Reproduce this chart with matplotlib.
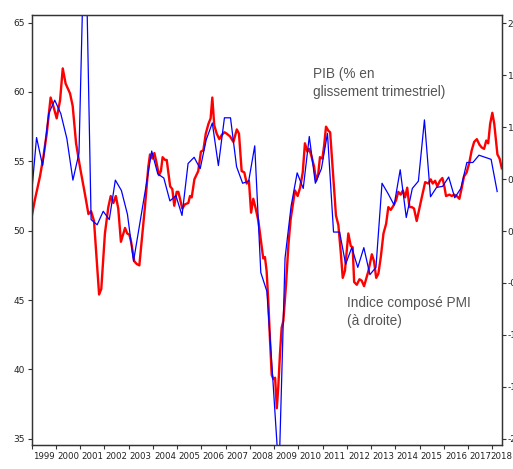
import matplotlib
matplotlib.use("Agg")
import matplotlib.pyplot as plt
import numpy as np

# Euro area composite PMI (monthly, left scale): decimal-year dates and values
pmi_dates = [
    1999.02, 1999.14, 1999.34, 1999.48, 1999.62, 1999.78, 1999.89, 2000.03, 2000.17, 2000.28,
    2000.40, 2000.58, 2000.69, 2000.83, 2000.99, 2001.20, 2001.34, 2001.45, 2001.57, 2001.78,
    2001.87, 2002.02, 2002.16, 2002.26, 2002.37, 2002.47, 2002.57, 2002.68, 2002.85, 2002.94,
    2003.03, 2003.10, 2003.23, 2003.33, 2003.44, 2003.54, 2003.67, 2003.81, 2003.88, 2003.98,
    2004.06, 2004.16, 2004.25, 2004.33, 2004.40, 2004.50, 2004.57, 2004.71, 2004.80, 2004.88,
    2004.98, 2005.05, 2005.21, 2005.32, 2005.46, 2005.53, 2005.60, 2005.71, 2005.87, 2005.98,
    2006.08, 2006.18, 2006.29, 2006.38, 2006.45, 2006.53, 2006.63, 2006.74, 2006.84, 2006.95,
    2007.04, 2007.18, 2007.32, 2007.46, 2007.55, 2007.66, 2007.77, 2007.87, 2007.96, 2008.05,
    2008.14, 2008.24, 2008.35, 2008.46, 2008.55, 2008.62, 2008.69, 2008.76, 2008.83, 2008.90,
    2008.97, 2009.04, 2009.11, 2009.17, 2009.24, 2009.31, 2009.38, 2009.49, 2009.59, 2009.68,
    2009.79, 2009.86, 2009.97, 2010.07, 2010.18, 2010.27, 2010.37, 2010.45, 2010.55, 2010.65,
    2010.73, 2010.82, 2010.89, 2010.99, 2011.06, 2011.14, 2011.24, 2011.31, 2011.44, 2011.55,
    2011.65, 2011.75, 2011.83, 2011.92, 2012.06, 2012.16, 2012.24, 2012.30, 2012.41, 2012.52,
    2012.61, 2012.71, 2012.79, 2012.89, 2013.03, 2013.12, 2013.21, 2013.30, 2013.40, 2013.51,
    2013.62, 2013.71, 2013.81, 2013.92, 2014.03, 2014.12, 2014.22, 2014.31, 2014.40, 2014.49,
    2014.58, 2014.68, 2014.77, 2014.88, 2014.99, 2015.09, 2015.23, 2015.36, 2015.46, 2015.54,
    2015.64, 2015.73, 2015.84, 2015.94, 2016.01, 2016.09, 2016.23, 2016.33, 2016.42, 2016.53,
    2016.64, 2016.74, 2016.83, 2016.94, 2017.05, 2017.15, 2017.25, 2017.36, 2017.47, 2017.56,
    2017.66, 2017.75, 2017.83, 2017.91, 2018.00, 2018.08, 2018.16, 2018.21, 2018.30, 2018.39,
]
pmi_values = [
    51.2, 52.3, 53.9, 55.3, 57.0, 59.6, 59.0, 58.1, 59.4, 61.7,
    60.6, 59.9, 59.0, 56.3, 54.6, 52.6, 51.2, 51.4, 50.7, 45.4,
    45.8, 49.8, 51.7, 52.5, 52.0, 52.5, 51.6, 49.2, 50.2, 49.8,
    49.7, 49.2, 47.8, 47.6, 47.5, 49.3, 51.7, 54.6, 55.5, 55.2,
    55.6, 54.8, 54.0, 54.3, 55.3, 55.1, 55.1, 53.2, 53.0, 51.8,
    52.8, 52.8, 51.6, 51.9, 52.0, 52.5, 52.4, 53.7, 54.3, 55.7,
    55.8, 57.0, 57.7, 58.1, 59.6, 57.6, 57.0, 56.6, 56.9, 57.1,
    57.0, 56.8, 56.4, 57.3, 57.0, 54.3, 54.2, 53.4, 53.6, 51.3,
    52.3, 51.6, 50.7, 49.2, 48.0, 48.1, 47.1, 44.9, 42.1, 39.6,
    39.3, 39.4, 37.2, 38.7, 41.1, 43.0, 43.5, 46.1, 49.0, 50.8,
    52.1, 52.9, 52.5, 53.1, 54.2, 56.3, 55.7, 55.9, 55.3, 54.6,
    53.6, 54.1, 55.3, 55.2, 56.1, 57.5, 57.2, 57.1, 53.9, 51.1,
    50.4, 48.4, 46.6, 47.1, 49.8, 48.9, 48.8, 46.3, 46.1, 46.5,
    46.4, 46.0, 46.5, 47.1, 48.3, 47.8, 46.6, 46.9, 48.1, 49.8,
    50.5, 51.7, 51.5, 51.8, 52.2, 52.8, 52.6, 52.9, 52.4, 53.1,
    51.7, 51.7, 51.6, 50.7, 51.6, 52.4, 53.5, 53.4, 53.7, 53.4,
    53.6, 53.2, 53.6, 53.8, 53.3, 52.5, 52.6, 52.5, 52.6, 52.5,
    52.3, 53.1, 53.9, 54.2, 54.9, 55.8, 56.4, 56.6, 56.2, 56.0,
    55.9, 56.5, 56.3, 57.7, 58.5, 57.7, 56.3, 55.5, 55.2, 54.5,
]

# Euro area GDP, % q/q (quarterly, right scale), 1998Q4 to 2017Q4
gdp_first_date = 1998.95
gdp_values = [
    0.24, 0.90, 0.63, 1.13, 1.26, 1.13, 0.89, 0.49, 0.75, 3.18,
    0.11, 0.06, 0.19, 0.11, 0.49, 0.39, 0.16, -0.29, 0.06, 0.41,
    0.77, 0.55, 0.51, 0.29, 0.34, 0.15, 0.65, 0.71, 0.60, 0.88,
    1.04, 0.63, 1.09, 1.09, 0.62, 0.46, 0.48, 0.82, -0.40, -0.58,
    -1.44, -2.35, -0.26, 0.24, 0.56, 0.41, 0.91, 0.46, 0.60, 0.94,
    -0.01, -0.01, -0.32, -0.16, -0.35, -0.16, -0.42, -0.35, 0.46, 0.36,
    0.25, 0.59, 0.13, 0.41, 0.48, 1.07, 0.33, 0.42, 0.43, 0.52,
    0.32, 0.41, 0.66, 0.66, 0.73, 0.71, 0.69, 0.38,
]
gdp_dates = gdp_first_date + 0.25 * np.arange(len(gdp_values))

years = list(range(1999, 2019))
left_ticks = [35, 40, 45, 50, 55, 60, 65]
right_ticks = [-2.0, -1.5, -1.0, -0.5, 0.0, 0.5, 1.0, 1.5, 2.0]

tick_font = ["Liberation Sans Narrow", "DejaVu Sans"]
text_font = ["Liberation Sans", "DejaVu Sans"]

fig = plt.figure(figsize=(5.13, 4.69), dpi=100)
ax = fig.add_axes([0.0618, 0.0512, 0.9168, 0.9162])
ax2 = ax.twinx()

ax.plot(pmi_dates, pmi_values, color="#ff0000", lw=1.7, solid_joinstyle="round")
ax2.plot(gdp_dates, gdp_values, color="#0000ff", lw=0.9)

ax.set_xlim(1999.0, 2018.4)
ax.set_ylim(34.55, 65.53)
ax2.set_ylim(-2.06, 2.077)

# Year ticks at boundaries, labels centred on each year
ax.set_xticks(years)
ax.set_xticklabels([])
label_pos = [y + 0.5 if y < 2018 else 2018.36 for y in years]
ax.set_xticks(label_pos, minor=True)
ax.set_xticklabels([str(y) for y in years], minor=True, family=tick_font,
                   fontsize=6.2, color="#222222")
ax.tick_params(axis="x", which="major", direction="out", length=3, width=0.8,
               color="#333333")
ax.tick_params(axis="x", which="minor", length=0, pad=5)

ax.set_yticks(left_ticks)
ax.set_yticklabels([str(v) for v in left_ticks], family=tick_font, fontsize=6.5,
                   color="#222222")
ax.tick_params(axis="y", direction="out", length=3, width=0.8, pad=2,
               color="#333333")

ax2.set_yticks(right_ticks)
ax2.set_yticklabels([f"{v:.1f}" for v in right_ticks], family=tick_font,
                    fontsize=6.5, color="#222222")
ax2.tick_params(axis="y", direction="out", length=3, width=0.8, pad=1,
                color="#333333")

for a in (ax, ax2):
    for s in a.spines.values():
        s.set_color("#333333")
        s.set_linewidth(0.9)

fig.text(313 / 513, 1 - 83 / 469, "PIB (% en\nglissement trimestriel)",
         family=text_font, fontsize=9.8, color="#555555", ha="left",
         va="center", linespacing=1.45)
fig.text(347 / 513, 1 - 312 / 469, "Indice composé PMI\n(à droite)",
         family=text_font, fontsize=9.8, color="#555555", ha="left",
         va="center", linespacing=1.45)

fig.savefig("out.png", dpi=100)
